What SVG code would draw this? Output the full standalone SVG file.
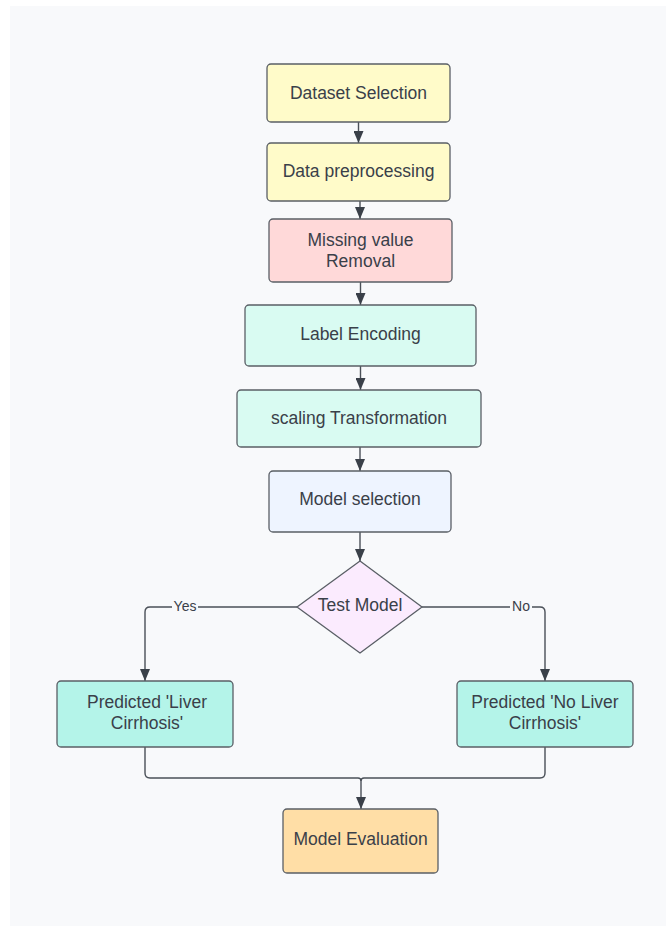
<svg xmlns="http://www.w3.org/2000/svg" width="666" height="926" viewBox="0 0 666 926">
  <defs>
    <marker id="arrow" markerWidth="12" markerHeight="10" refX="12" refY="5" orient="auto" markerUnits="userSpaceOnUse" viewBox="0 0 12 10">
      <path d="M0,0 L12,5 L0,10 Z" fill="#3a4049"/>
    </marker>
    <style>
      .node rect, .node polygon { stroke: #5a5f66; stroke-width: 1.3; }
      .node text { font-family: "Liberation Sans", Arial, sans-serif; font-size: 17.5px; fill: #3a4049; text-anchor: middle; dominant-baseline: central; }
      .edge { fill: none; stroke: #4a5058; stroke-width: 1.4; }
      .lbl { font-family: "Liberation Sans", Arial, sans-serif; font-size: 14px; fill: #3a4049; text-anchor: middle; dominant-baseline: central; }
      .lblbg { fill: #f8f9fb; }
    </style>
  </defs>

  <!-- canvas -->
  <rect x="10" y="6" width="656" height="920" fill="#f8f9fb"/>

  <!-- connectors -->
  <g id="connectors">
    <path class="edge" d="M358.5,122 V143" marker-end="url(#arrow)"/>
    <path class="edge" d="M360,201 V219" marker-end="url(#arrow)"/>
    <path class="edge" d="M360.5,282 V305" marker-end="url(#arrow)"/>
    <path class="edge" d="M360.5,366 V390" marker-end="url(#arrow)"/>
    <path class="edge" d="M360,447 V471" marker-end="url(#arrow)"/>
    <path class="edge" d="M360,532 V561" marker-end="url(#arrow)"/>
    <!-- Yes branch -->
    <path class="edge" d="M297,607 H150 Q145,607 145,612 V681" marker-end="url(#arrow)"/>
    <rect class="lblbg" x="172" y="599" width="26" height="15"/>
    <text class="lbl" x="185" y="606">Yes</text>
    <!-- No branch -->
    <path class="edge" d="M422,607 H540 Q545,607 545,612 V681" marker-end="url(#arrow)"/>
    <rect class="lblbg" x="510" y="599" width="22" height="15"/>
    <text class="lbl" x="521" y="606">No</text>
    <!-- merge into evaluation -->
    <path class="edge" d="M145,747 V773 Q145,778 150,778 H358 Q361,778 361,781"/>
    <path class="edge" d="M545,747 V773 Q545,778 540,778 H364 Q361,778 361,781"/>
    <path class="edge" d="M361,781 V809" marker-end="url(#arrow)"/>
  </g>

  <!-- nodes -->
  <g id="dataset-selection" class="node">
    <rect x="267" y="64" width="183" height="58" rx="4" fill="#fffbc9"/>
    <text x="358.5" y="93">Dataset Selection</text>
  </g>
  <g id="data-preprocessing" class="node">
    <rect x="267" y="143" width="183" height="58" rx="4" fill="#fffbc9"/>
    <text x="358.5" y="171">Data preprocessing</text>
  </g>
  <g id="missing-value-removal" class="node">
    <rect x="269" y="219" width="183" height="63" rx="4" fill="#ffd9d9"/>
    <text x="360.5" y="240">Missing value</text>
    <text x="360.5" y="261">Removal</text>
  </g>
  <g id="label-encoding" class="node">
    <rect x="245" y="305" width="231" height="61" rx="4" fill="#d9fbf2"/>
    <text x="360.5" y="334">Label Encoding</text>
  </g>
  <g id="scaling-transformation" class="node">
    <rect x="237" y="390" width="244" height="57" rx="4" fill="#d9fbf2"/>
    <text x="359" y="418">scaling Transformation</text>
  </g>
  <g id="model-selection" class="node">
    <rect x="269" y="471" width="182" height="61" rx="4" fill="#eef4ff"/>
    <text x="360" y="499">Model selection</text>
  </g>
  <g id="test-model" class="node">
    <polygon points="360,561 422,607 360,653 297,607" stroke-linejoin="round" fill="#fbebfe"/>
    <text x="360" y="605">Test Model</text>
  </g>
  <g id="predicted-liver-cirrhosis" class="node">
    <rect x="57" y="681" width="176" height="66" rx="4" fill="#b4f4e9"/>
    <text x="147" y="702">Predicted 'Liver</text>
    <text x="147" y="723">Cirrhosis'</text>
  </g>
  <g id="predicted-no-liver-cirrhosis" class="node">
    <rect x="457" y="681" width="176" height="66" rx="4" fill="#b4f4e9"/>
    <text x="545" y="702">Predicted 'No Liver</text>
    <text x="545" y="723">Cirrhosis'</text>
  </g>
  <g id="model-evaluation" class="node">
    <rect x="283" y="809" width="155" height="64" rx="4" fill="#ffdea6"/>
    <text x="360.5" y="839">Model Evaluation</text>
  </g>
</svg>
